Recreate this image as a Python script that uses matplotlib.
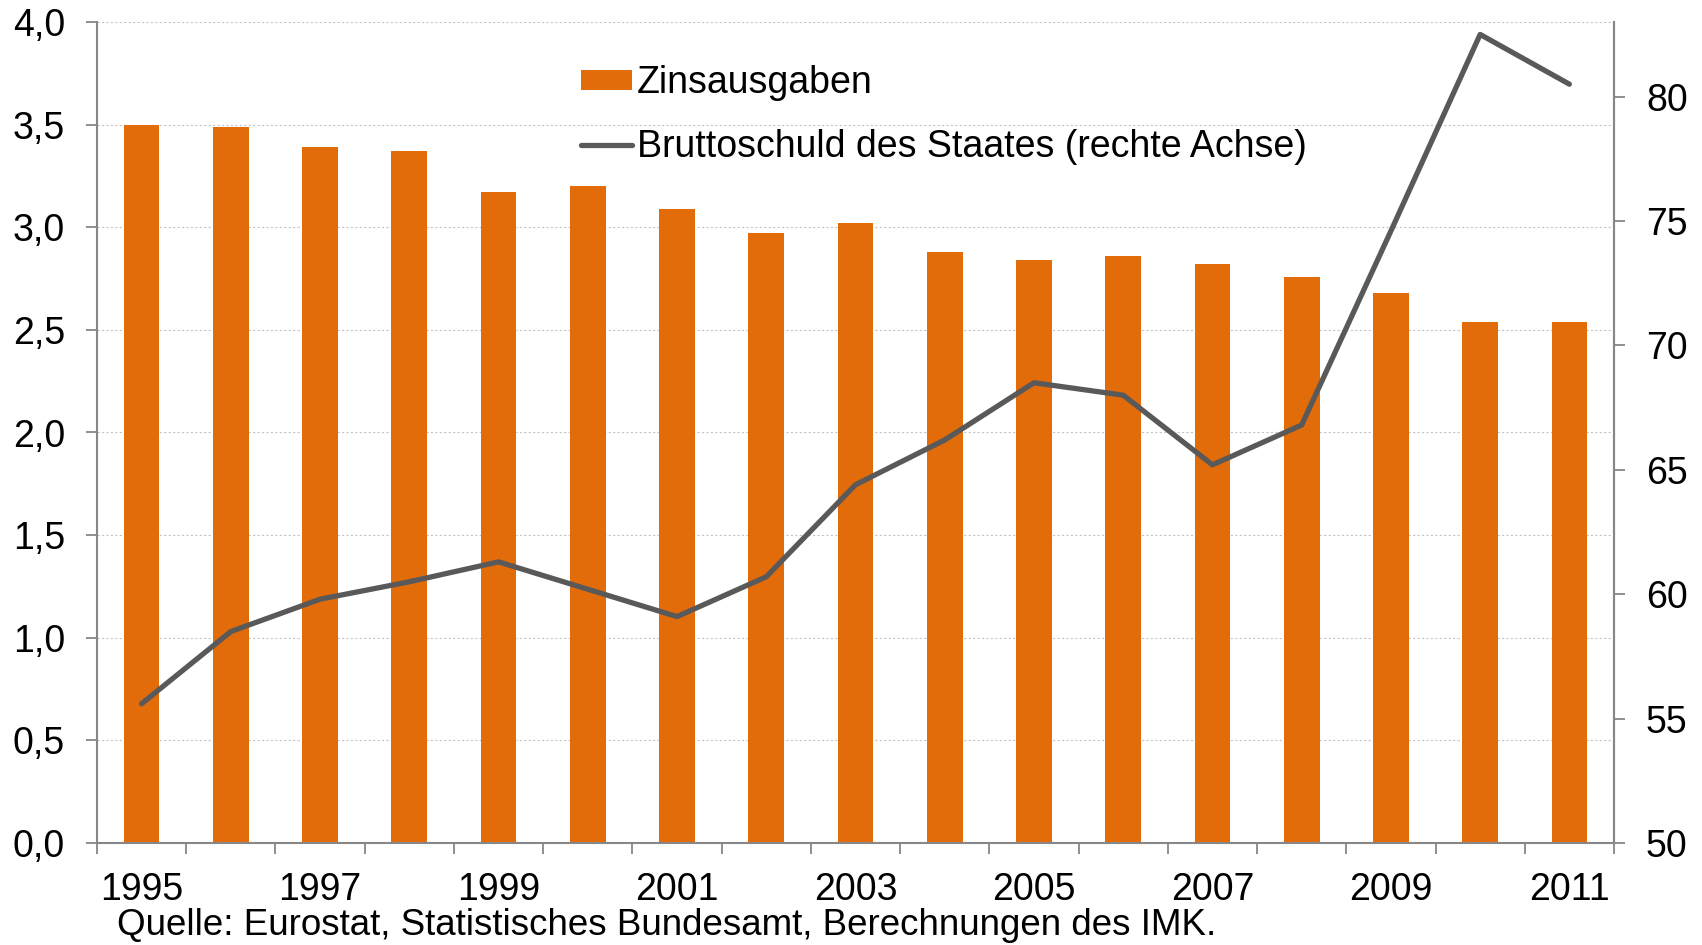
import matplotlib
matplotlib.use("Agg")
import matplotlib.pyplot as plt
import numpy as np
from matplotlib.ticker import FixedLocator, FuncFormatter

years = [str(y) for y in range(1995, 2012)]
zinsausgaben = [3.50, 3.49, 3.39, 3.37, 3.17, 3.20, 3.09, 2.97, 3.02, 2.88, 2.84, 2.86, 2.82, 2.76, 2.68, 2.54, 2.54]
bruttoschuld = [55.6, 58.5, 59.8, 60.5, 61.3, 60.2, 59.1, 60.7, 64.4, 66.2, 68.5, 68.0, 65.2, 66.8, 74.6, 82.5, 80.5]
left_ticks = [0.0, 0.5, 1.0, 1.5, 2.0, 2.5, 3.0, 3.5, 4.0]
right_ticks = [50, 55, 60, 65, 70, 75, 80]
label_bar = "Zinsausgaben"
label_line = "Bruttoschuld des Staates (rechte Achse)"
source = "Quelle: Eurostat, Statistisches Bundesamt, Berechnungen des IMK."

plt.rcParams['font.family'] = ['Liberation Sans', 'DejaVu Sans']
FS = 27
ORANGE = '#E36C0A'
LINEC = '#595959'
AXC = '#878787'

fig = plt.figure(figsize=(17.02, 9.4501), dpi=100)
ax = fig.add_axes([97/1702, 1-843/945, (1614-97)/1702, (843-22)/945])
x = np.arange(len(years))
ax.bar(x, zinsausgaben, width=0.4, color=ORANGE, label=label_bar, zorder=2)
ax.set_xlim(-0.5, len(years)-0.5)
ax.set_ylim(0, 4.0)
ax.set_yticks(left_ticks)
ax.yaxis.set_major_formatter(FuncFormatter(lambda v, p: f"{v:.1f}".replace('.', ',')))
ax.yaxis.grid(True, color='#C4C4C4', linestyle=(0, (2, 2)), linewidth=0.8, zorder=0)
ax.set_axisbelow(True)

# x ticks at category boundaries, labels every other year
ax.xaxis.set_major_locator(FixedLocator(np.arange(-0.5, len(years), 1.0)))
ax.xaxis.set_major_formatter(FuncFormatter(lambda v, p: ""))
ax.xaxis.set_minor_locator(FixedLocator(x[::2]))
ax.set_xticklabels([years[i] for i in range(0, len(years), 2)], minor=True)
ax.tick_params(axis='x', which='major', length=8, width=1.3, color=AXC, direction='out')
ax.tick_params(axis='x', which='minor', length=0, pad=21, labelsize=FS)
ax.tick_params(axis='y', length=8, width=1.3, color=AXC, direction='out', pad=15, labelsize=FS)

ax.spines['top'].set_visible(False)
for s in ['left', 'right', 'bottom']:
    ax.spines[s].set_color(AXC)
    ax.spines[s].set_linewidth(1.5)

ax2 = ax.twinx()
ax2.plot(x, bruttoschuld, color=LINEC, linewidth=3.8, label=label_line, solid_capstyle='round', zorder=3)
ax2.set_ylim(50, 83)
ax2.set_yticks(right_ticks)
ax2.tick_params(axis='y', length=8, width=1.3, color=AXC, direction='out', pad=15, labelsize=FS)
ax2.spines['top'].set_visible(False)
ax2.spines['left'].set_visible(False)
ax2.spines['bottom'].set_visible(False)
ax2.spines['right'].set_color(AXC)
ax2.spines['right'].set_linewidth(1.5)

h1, l1 = ax.get_legend_handles_labels()
h2, l2 = ax2.get_legend_handles_labels()
leg = ax2.legend(h1 + h2, l1 + l2, loc='upper left', bbox_to_anchor=(581/1702, 1-65/945),
                 bbox_transform=fig.transFigure, frameon=False, fontsize=FS,
                 borderpad=0, borderaxespad=0, handlelength=1.35, handleheight=0.45,
                 handletextpad=0.15, labelspacing=0.75)

fig.text(117/1702, 10/945, source, fontsize=26.5, va='baseline', ha='left')

fig.savefig('out.png', dpi=100)
